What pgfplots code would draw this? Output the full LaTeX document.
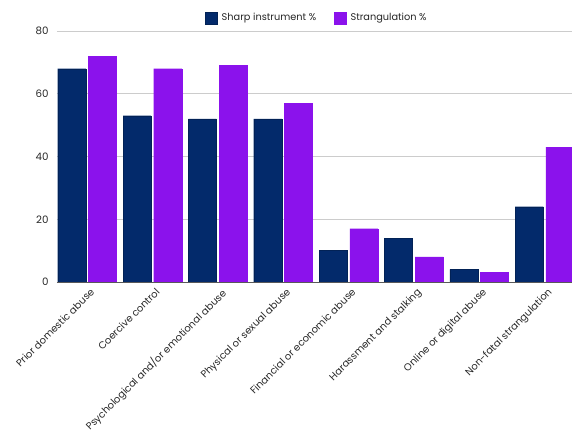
\documentclass[border=0pt]{standalone}
\usepackage{fontspec}
\setmainfont{Poppins}
\usepackage{pgfplots}
\pgfplotsset{compat=1.18}
\definecolor{navy}{HTML}{032A6B}
\definecolor{vio}{HTML}{8B12EC}
\begin{document}
\begin{tikzpicture}
\begin{axis}[
  scale only axis,
  width=515bp, height=251bp,
  xmin=-0.46, xmax=7.42,
  ymin=0, ymax=80,
  ytick={0,20,40,60,80},
  xtick={0,...,7},
  xticklabels={Prior domestic abuse,Coercive control,Psychological and/or emotional abuse,Physical or sexual abuse,Financial or economic abuse,Harassment and stalking,Online or digital abuse,Non-fatal strangulation},
  x tick label style={rotate=45, anchor=north east, font=\fontsize{10}{12}\selectfont, text=black!85, inner sep=1pt, xshift=-1bp, yshift=-4.5bp},
  y tick label style={font=\fontsize{10.3}{12}\selectfont, text=black!85},
  /pgf/number format/assume math mode=true,
  major tick length=0pt,
  axis line style={draw=none},
  axis x line*=bottom,
  ymajorgrids,
  grid style={gray!40, line width=0.6pt},
  yticklabel style={xshift=-5bp},
  legend style={at={(0.5,1)}, anchor=south, yshift=7bp, xshift=2bp, draw=none, font=\fontsize{9.8}{12}\selectfont, legend columns=2, column sep=3bp, text=black!85, inner sep=0pt, nodes={inner sep=1bp}, /tikz/every even column/.append style={column sep=17bp}},
  legend image code/.code={\fill[#1] (0bp,-6bp) rectangle (12bp,6bp);},
  clip=true,
]
\addplot[ybar, bar width=0.43, bar shift=-0.235, fill=navy, draw=navy!80!black, line width=0.3pt] coordinates {(0,68) (1,53) (2,52) (3,52) (4,10) (5,14) (6,4) (7,24)};
\addlegendentry{Sharp instrument \%}
\addplot[ybar, bar width=0.43, bar shift=0.235, fill=vio, draw=vio, line width=0.3pt] coordinates {(0,72) (1,68) (2,69) (3,57) (4,17) (5,8) (6,3) (7,43)};
\addlegendentry{Strangulation \%}
\draw[gray!70!black, line width=0.6pt] (rel axis cs:0,0) -- (rel axis cs:1,0);
\end{axis}
\pgfresetboundingbox
\path[use as bounding box] (-57bp,-150bp) rectangle (515bp,282bp);
\end{tikzpicture}
\end{document}
